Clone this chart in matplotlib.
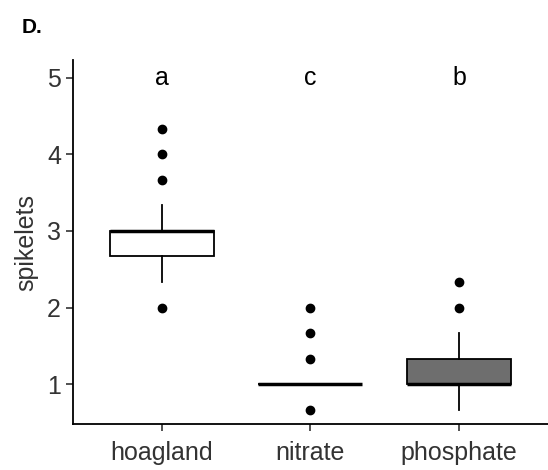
import matplotlib
matplotlib.use("Agg")
import matplotlib.pyplot as plt

plt.rcParams['font.family'] = ['Liberation Sans', 'DejaVu Sans']

groups = ['hoagland', 'nitrate', 'phosphate']
sig_letters = ['a', 'c', 'b']
q1 = [2.667, 1.0, 1.0]
med = [3.0, 1.0, 1.0]
q3 = [3.0, 1.0, 1.333]
whislo = [2.333, 1.0, 0.667]
whishi = [3.333, 1.0, 1.667]
fliers = [[4.333, 4.0, 3.667, 2.0],
          [2.0, 1.667, 1.333, 0.667],
          [2.333, 2.0]]
fills = ['white', 'white', '#6e6e6e']

fig = plt.figure(figsize=(5.48, 4.70), dpi=100)
ax = fig.add_axes([0.133, 0.098, 0.867, 0.774])

stats = []
for i in range(len(groups)):
    stats.append(dict(label=groups[i], q1=q1[i], med=med[i], q3=q3[i],
                      whislo=whislo[i], whishi=whishi[i], fliers=fliers[i]))

bp = ax.bxp(stats, positions=[1, 2, 3], widths=0.7, patch_artist=True,
            showcaps=False,
            boxprops=dict(linewidth=1.3, edgecolor='black'),
            whiskerprops=dict(linewidth=1.3, color='black'),
            medianprops=dict(linewidth=2.5, color='black'),
            flierprops=dict(marker='o', markerfacecolor='black',
                            markeredgecolor='black', markersize=6))
for patch, c in zip(bp['boxes'], fills):
    patch.set_facecolor(c)

for i, lt in enumerate(sig_letters):
    ax.text(i + 1, 5.0, lt, ha='center', va='center', fontsize=18, color='black')

ax.set_xlim(0.4, 3.6)
ax.set_ylim(0.48, 5.23)
ax.set_yticks([1, 2, 3, 4, 5])
ax.set_xticks([1, 2, 3])
ax.set_xticklabels(groups)
ax.tick_params(axis='both', labelsize=18, colors='#333333', length=5, width=1.2)
ax.tick_params(axis='x', pad=7)
ax.spines['top'].set_visible(False)
ax.spines['right'].set_visible(False)
ax.spines['left'].set_linewidth(1.3)
ax.spines['bottom'].set_linewidth(1.3)
ax.set_ylabel('spikelets', fontsize=18, color='#333333', labelpad=6)

fig.text(0.04, 0.93, 'D.', fontsize=15, fontweight='bold', color='black')

fig.savefig('out.png', dpi=100)
